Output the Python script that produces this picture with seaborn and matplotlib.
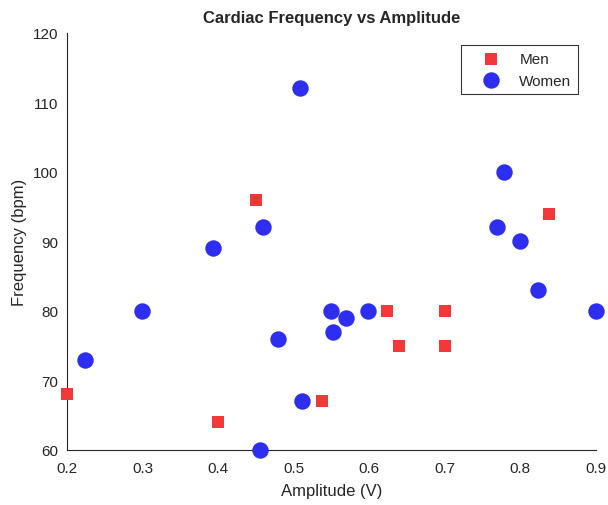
import pandas as pd
import matplotlib.pyplot as plt
import seaborn as sns

# men measurements
men_amp = [0.20, 0.45, 0.40, 0.537, 0.623, 0.639, 0.70, 0.70, 0.838]
men_freq = [68, 96, 64, 67, 80, 75, 80, 75, 94]

# women measurements
women_amp = [0.224, 0.30, 0.393, 0.459, 0.508, 0.479, 0.511, 0.455, 0.549,
             0.552, 0.569, 0.598, 0.779, 0.769, 0.799, 0.823, 0.90]
women_freq = [73, 80, 89, 92, 112, 76, 67, 60, 80, 77, 79, 80, 100, 92, 90, 83, 80]

df = pd.concat([
    pd.DataFrame({'Amplitude': men_amp, 'Frequency': men_freq, 'Group': 'Men'}),
    pd.DataFrame({'Amplitude': women_amp, 'Frequency': women_freq, 'Group': 'Women'}),
])

sns.set_style('white')
plt.rcParams['font.family'] = ['Liberation Sans', 'DejaVu Sans']

fig = plt.figure(figsize=(6.08, 5.06), dpi=100)
ax = fig.add_axes([0.110, 0.109, 0.870, 0.824])

sns.scatterplot(data=df[df.Group == 'Men'], x='Amplitude', y='Frequency',
                marker='s', color='#f23838', s=75, linewidth=0, label='Men',
                clip_on=False, zorder=3, ax=ax)
sns.scatterplot(data=df[df.Group == 'Women'], x='Amplitude', y='Frequency',
                marker='o', color='#2e2ef0', s=140, linewidth=0, label='Women',
                clip_on=False, zorder=3, ax=ax)

ax.set_xlim(0.2, 0.9)
ax.set_ylim(60, 120)
ax.set_xticks([0.2, 0.3, 0.4, 0.5, 0.6, 0.7, 0.8, 0.9])
ax.set_yticks([60, 70, 80, 90, 100, 110, 120])
ax.set_xticklabels(['0.2', '0.3', '0.4', '0.5', '0.6', '0.7', '0.8', '0.9'])
sns.despine(ax=ax)
for sp in ['left', 'bottom']:
    ax.spines[sp].set_color('#262626')
    ax.spines[sp].set_linewidth(0.8)
ax.tick_params(direction='in', length=4, width=0.8, colors='#262626', labelsize=11)
ax.tick_params(axis='x', pad=8)
ax.tick_params(axis='y', pad=6)

ax.set_xlabel('Amplitude (V)', fontsize=12, color='#262626', labelpad=6)
ax.set_ylabel('Frequency (bpm)', fontsize=12, color='#262626')
ax.set_title('Cardiac Frequency vs Amplitude', fontsize=12, fontweight='bold', pad=8)

leg = ax.legend(loc='upper right', frameon=True, fancybox=False, fontsize=11,
                bbox_to_anchor=(0.967, 0.971), borderaxespad=0,
                handlelength=3.0, handletextpad=0.35, borderpad=0.45)
leg.get_frame().set_edgecolor('black')
leg.get_frame().set_linewidth(0.8)

fig.savefig('out.png', dpi=100)
